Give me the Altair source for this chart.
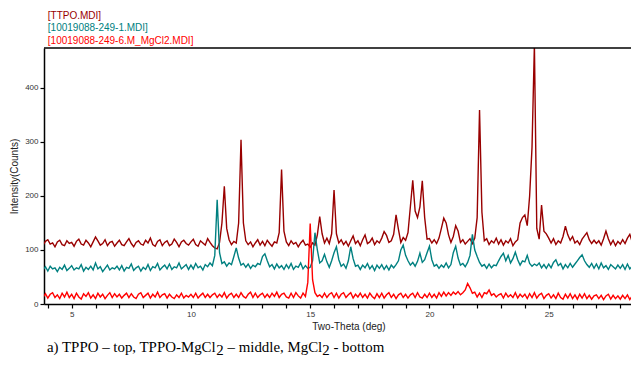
import altair as alt
import pandas as pd

# ---- data (2-theta sampled from 3.8 deg in 0.1 deg steps) ----
X_START = 3.8
X_STEP = 0.1

TTPO_Y = [
    109, 116,
    119, 111, 113, 106, 115, 118, 110, 108, 117, 112,
    114, 107, 116, 120, 111, 109, 118, 113, 106, 115,
    124, 117, 109, 112, 119, 108, 114, 116, 107, 113,
    118, 110, 108, 115, 121, 112, 106, 114, 117, 111,
    109, 118, 113, 122, 110, 107, 116, 119, 108, 114,
    117, 108, 111, 120, 114, 106, 115, 118, 112, 109,
    115, 120, 110, 107, 117, 113, 109, 121, 114, 108,
    104, 102, 114, 150, 218, 140, 119, 110, 116, 113,
    150, 304, 150, 117, 110, 115, 106, 113, 119, 109,
    116, 108, 118, 112, 107, 115, 113, 132, 249, 135,
    115, 108, 117, 111, 114, 106, 113, 118, 109, 111,
    105, 113, 109, 128, 162, 130, 113, 122, 112, 130,
    211, 130, 113, 119, 110, 116, 107, 117, 126, 112,
    117, 108, 119, 128, 112, 115, 122, 110, 117, 113,
    122, 134, 127, 114, 117, 129, 165, 138, 114, 123,
    118, 132, 180, 229, 172, 160, 180, 228, 160, 120,
    121, 113, 119, 112, 122, 140, 159, 150, 128, 114,
    125, 145, 135, 114, 119, 111, 116, 121, 112, 122,
    160, 359, 170, 117, 121, 110, 117, 113, 122, 111,
    119, 109, 117, 113, 121, 108, 115, 119, 150, 160,
    165, 145, 200, 290, 480, 140, 120, 183, 135, 130,
    122, 113, 121, 110, 117, 113, 125, 144, 128, 118,
    125, 113, 117, 110, 120, 126, 132, 119, 112, 118,
    112, 117, 109, 121, 135, 121, 110, 118, 108, 116,
    111, 119, 112, 122, 129, 115, 108, 116, 110,
]

MIX_Y = [
    63, 69,
    61, 70, 65, 67, 60, 68, 64, 72, 62, 66,
    71, 63, 67, 65, 73, 61, 68, 64, 70, 63,
    76, 65, 69, 60, 66, 72, 63, 67, 65, 70,
    63, 71, 61, 68, 66, 74, 62, 67, 70, 61,
    68, 64, 73, 62, 69, 67, 75, 63, 68, 72,
    65, 74, 64, 69, 67, 76, 65, 69, 73, 64,
    72, 65, 75, 67, 70, 63, 73, 69, 76, 71,
    90, 193, 95, 75, 78, 70, 76, 73, 88, 104,
    85, 72, 75, 68, 74, 66, 72, 69, 75, 73,
    88, 93, 80, 69, 73, 65, 74, 67, 71, 64,
    73, 66, 75, 64, 70, 68, 76, 65, 71, 66,
    68, 80, 132, 100, 76, 80, 92, 78, 68, 80,
    95, 106, 82, 70, 74, 66, 80, 106, 84, 70,
    72, 64, 72, 67, 75, 65, 71, 62, 72, 66,
    73, 64, 71, 63, 72, 67, 73, 80, 100, 109,
    90, 80, 72, 77, 70, 79, 94, 77, 82, 95,
    107, 82, 70, 73, 66, 72, 68, 76, 67, 73,
    95, 107, 85, 72, 75, 69, 77, 90, 129, 100,
    88, 77, 70, 73, 66, 74, 67, 72, 71, 80,
    88, 94, 80, 90, 76, 84, 96, 82, 72, 80,
    78, 90, 75, 70, 74, 71, 76, 67, 73, 66,
    74, 67, 77, 82, 71, 75, 65, 73, 67, 75,
    68, 74, 80, 86, 91, 80, 73, 68, 75, 66,
    74, 65, 76, 67, 71, 64, 73, 69, 65, 72,
    66, 73, 64, 74, 65, 70, 66, 72, 67,
]

MGCL2_Y = [
    12, 19,
    11, 18, 21, 12, 17, 10, 20, 13, 22, 12,
    18, 10, 20, 13, 9, 19, 14, 21, 11, 17,
    10, 20, 13, 18, 10, 16, 21, 12, 19, 13,
    18, 11, 16, 20, 12, 19, 13, 10, 18, 21,
    12, 16, 20, 11, 18, 13, 22, 12, 17, 19,
    11, 18, 13, 10, 17, 12, 20, 11, 16, 13,
    18, 12, 20, 11, 16, 20, 12, 18, 12, 17,
    20, 12, 18, 13, 21, 11, 17, 20, 12, 18,
    12, 21, 14, 11, 18, 22, 12, 20, 12, 17,
    20, 12, 18, 12, 20, 14, 22, 12, 18, 20,
    13, 11, 20, 12, 21, 15, 11, 20, 14, 40,
    149, 45, 21, 14, 17, 12, 20, 12, 18, 21,
    12, 20, 11, 18, 21, 12, 17, 21, 11, 18,
    13, 20, 12, 18, 11, 20, 14, 10, 19, 12,
    20, 11, 17, 21, 12, 18, 10, 17, 20, 12,
    18, 11, 17, 20, 12, 21, 13, 11, 18, 12,
    20, 12, 18, 11, 21, 14, 22, 15, 21, 16,
    22, 18, 23, 17, 21, 26, 38, 30, 20, 22,
    13, 20, 12, 21, 19, 26, 16, 19, 13, 17,
    19, 11, 20, 13, 17, 12, 21, 11, 18, 13,
    18, 10, 19, 12, 21, 11, 17, 20, 10, 16,
    19, 11, 17, 10, 20, 12, 9, 18, 11, 19,
    10, 17, 9, 18, 11, 19, 10, 16, 9, 15,
    17, 10, 16, 8, 15, 18, 9, 16, 10, 15,
    9, 16, 10, 17, 8, 15, 10, 17, 12,
]

SERIES_NAMES = ["[TTPO.MDI]", "[10019088-249-1.MDI]", "[10019088-249-6.M_MgCl2.MDI]"]
SERIES_COLORS = ["#990000", "#008080", "#ff0000"]
X_TICKS = list(range(4, 29))
Y_TICKS = [0, 100, 200, 300, 400]
X_DOMAIN = [3.84, 28.45]
Y_DOMAIN = [0, 474]

CAPTION_PARTS = ["a) TPPO \u2013 top, TPPO-MgCl", "2", "\u2013 middle, MgCl", "2", "- bottom"]


def frame(ys, name):
    xs = [round(X_START + X_STEP * i, 2) for i in range(len(ys))]
    return pd.DataFrame({"two_theta": xs, "counts": ys, "series": name})


SANS = "Liberation Sans"

x_axis = alt.Axis(
    title="Two-Theta (deg)", values=X_TICKS,
    labelExpr="datum.value % 5 === 0 ? datum.label : ''",
    grid=False, tickSize=4, tickColor="black", tickWidth=1.2,
    domainColor="black", domainWidth=1.5, labelOverlap=False, labelFlush=False,
    labelFontSize=8, labelColor="#333333", labelFont=SANS, labelPadding=2,
    titleFont=SANS, titleFontSize=10, titleFontWeight="normal", titleColor="#222222",
    titlePadding=3, titleX=304.5,
)
y_axis = alt.Axis(
    title="Intensity(Counts)", values=Y_TICKS, grid=False, tickSize=4,
    tickColor="black", tickWidth=1.2, domainColor="black", domainWidth=1.5,
    labelFontSize=8, labelColor="#333333", labelFont=SANS, labelPadding=2,
    titleFont=SANS, titleFontSize=10, titleFontWeight="normal", titleColor="#222222",
    titlePadding=5,
)

X_ENC = alt.X("two_theta:Q", scale=alt.Scale(domain=X_DOMAIN, nice=False, zero=False), axis=x_axis)
Y_ENC = alt.Y("counts:Q", scale=alt.Scale(domain=Y_DOMAIN, nice=False), axis=y_axis)

layers = []
for ys, name, col in zip([TTPO_Y, MIX_Y, MGCL2_Y], SERIES_NAMES, SERIES_COLORS):
    layers.append(
        alt.Chart(frame(ys, name)).mark_line(color=col, strokeWidth=1.4, clip=True)
        .encode(x=X_ENC, y=Y_ENC)
    )

one = pd.DataFrame({"a": [0]})
top_rule = alt.Chart(one).mark_rule(color="black", strokeWidth=1.5).encode(y=alt.value(0))
layers.append(top_rule)

legend_y = [-29.3, -16.8, -4.3]
for name, col, ly in zip(SERIES_NAMES, SERIES_COLORS, legend_y):
    layers.append(
        alt.Chart(pd.DataFrame({"label": [name]}))
        .mark_text(align="left", baseline="alphabetic", font=SANS, fontSize=10, color=col)
        .encode(x=alt.value(3.8), y=alt.value(ly), text="label:N")
    )

# caption pieces (Times metrics, 14.9 px); subscripts sit lower
cap_x = [3.0, 172.3, 183.5, 278.3, 289.4]
cap_y = [303.5, 309.6, 303.5, 309.6, 303.5]
cap_base = ["alphabetic", "bottom", "alphabetic", "bottom", "alphabetic"]
for txt, cx, cy, cb in zip(CAPTION_PARTS, cap_x, cap_y, cap_base):
    layers.append(
        alt.Chart(pd.DataFrame({"t": [txt]}))
        .mark_text(align="left", baseline=cb, font="Liberation Serif",
                   fontSize=14.9, color="black")
        .encode(x=alt.value(cx), y=alt.value(cy), text="t:N")
    )

chart = alt.layer(*layers).properties(
    width=587, height=256,
    padding={"left": 36, "top": 40, "right": 0, "bottom": 54},
    autosize="none",
).configure_view(stroke=None)

chart.save("out.html", embed_options={"renderer": "svg", "actions": False})
